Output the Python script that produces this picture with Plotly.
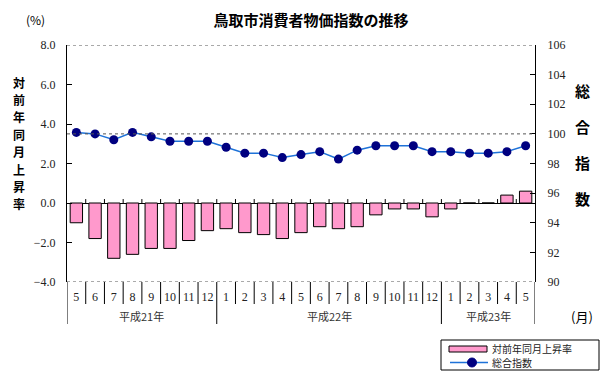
import plotly.graph_objects as go

# ---- data ----
month_labels = ["5", "6", "7", "8", "9", "10", "11", "12",
                "1", "2", "3", "4", "5", "6", "7", "8", "9", "10", "11", "12",
                "1", "2", "3", "4", "5"]
year_labels = ["平成21年", "平成22年", "平成23年"]
year_counts = [8, 12, 5]
rate_yoy = [-1.0, -1.8, -2.8, -2.6, -2.3, -2.3, -1.9, -1.4,
            -1.3, -1.5, -1.6, -1.8, -1.5, -1.2, -1.3, -1.2, -0.6, -0.3, -0.3, -0.7,
            -0.3, 0.0, 0.0, 0.4, 0.6]
index_total = [100.1, 100.0, 99.6, 100.1, 99.8, 99.5, 99.5, 99.5,
               99.1, 98.7, 98.7, 98.4, 98.6, 98.8, 98.3, 98.9, 99.2, 99.2, 99.2, 98.8,
               98.8, 98.7, 98.7, 98.8, 99.2]
left_ticks = [-4, -2, 0, 2, 4, 6, 8]
right_ticks = [90, 92, 94, 96, 98, 100, 102, 104, 106]
series_names = ["対前年同月上昇率", "総合指数"]

W, H = 606, 383
ML, MR, MT, MB = 67, 71, 45, 101
PW, PH = W - ML - MR, H - MT - MB

def px_x(px):
    return (px - ML) / PW

def px_y(py):
    return (H - MB - py) / PH

xs = list(range(len(month_labels)))
serif = "Liberation Serif"
cjk = "Noto Sans CJK JP"
PINK = "#FF99CC"
LINE = "#1E72D8"
NAVY = "#000080"

fig = go.Figure()
fig.add_trace(go.Bar(
    x=xs, y=rate_yoy, name=series_names[0], width=0.66,
    marker=dict(color=PINK, line=dict(color="black", width=1)),
))
fig.add_trace(go.Scatter(
    x=xs, y=index_total, yaxis="y2", name=series_names[1], mode="lines+markers",
    line=dict(color=LINE, width=1.5),
    marker=dict(color=NAVY, size=9),
))

shapes = []
# dotted reference lines
for yv in [left_ticks[-1], left_ticks[0]]:
    shapes.append(dict(type="line", xref="paper", yref="y", x0=0, x1=1, y0=yv, y1=yv,
                       line=dict(color="#555", width=1, dash="dot")))
shapes.append(dict(type="line", xref="paper", yref="y2", x0=0, x1=1, y0=100, y1=100,
                   line=dict(color="#555", width=1, dash="dot")))
# small ticks on zero line
for k in range(1, len(xs)):
    shapes.append(dict(type="line", xref="x", yref="y", x0=k - 0.5, x1=k - 0.5, y0=0, y1=0.2,
                       line=dict(color="black", width=1)))
# separators under the plot
year_bounds = [0]
for c in year_counts:
    year_bounds.append(year_bounds[-1] + c)
for k in range(len(xs) + 1):
    long = k in year_bounds
    shapes.append(dict(type="line", xref="x", yref="paper", x0=k - 0.5, x1=k - 0.5,
                       y0=0, y1=px_y(324) if long else px_y(304),
                       line=dict(color="black", width=1)))

# custom legend box
shapes.append(dict(type="rect", xref="paper", yref="paper",
                   x0=px_x(441), x1=px_x(599), y0=px_y(340), y1=px_y(370),
                   line=dict(color="black", width=1), fillcolor="white", layer="above"))
shapes.append(dict(type="rect", xref="paper", yref="paper",
                   x0=px_x(449), x1=px_x(487), y0=px_y(346), y1=px_y(352),
                   line=dict(color="black", width=1), fillcolor=PINK, layer="above"))
shapes.append(dict(type="line", xref="paper", yref="paper",
                   x0=px_x(450), x1=px_x(488), y0=px_y(362.5), y1=px_y(362.5),
                   line=dict(color=LINE, width=1.5), layer="above"))
shapes.append(dict(type="circle", xref="paper", yref="paper",
                   x0=px_x(467.5), x1=px_x(476.5), y0=px_y(358), y1=px_y(367),
                   line=dict(color=NAVY, width=1), fillcolor=NAVY, layer="above"))

annotations = []
for i, nm in enumerate(series_names):
    annotations.append(dict(x=px_x(490), xref="paper", y=px_y(349 + 13.5 * i), yref="paper",
                            text=nm, showarrow=False, font=dict(family=cjk, size=10, color="#222"),
                            xanchor="left", yanchor="middle"))
# year labels
for i, lab in enumerate(year_labels):
    cx = (year_bounds[i] + year_bounds[i + 1] - 1) / 2
    annotations.append(dict(x=cx, xref="x", y=px_y(316), yref="paper", text=lab,
                            showarrow=False, font=dict(family=cjk, size=11, color="#333"),
                            xanchor="center", yanchor="middle"))
annotations.append(dict(x=px_x(582), xref="paper", y=px_y(316), yref="paper", text="(月)",
                        showarrow=False, font=dict(family=cjk, size=13, color="black"),
                        xanchor="center", yanchor="middle"))
annotations.append(dict(x=px_x(35), xref="paper", y=px_y(20), yref="paper", text="(%)",
                        showarrow=False, font=dict(family=cjk, size=12, color="black"),
                        xanchor="center", yanchor="middle"))
for i, ch in enumerate("対前年同月上昇率"):
    annotations.append(dict(x=px_x(19), xref="paper", y=px_y(82 + 17.4 * i), yref="paper",
                            text="<b>" + ch + "</b>", showarrow=False,
                            font=dict(family=cjk, size=12, color="black"),
                            xanchor="center", yanchor="middle"))
for i, ch in enumerate("総合指数"):
    annotations.append(dict(x=px_x(582), xref="paper", y=px_y(90 + 36 * i), yref="paper",
                            text="<b>" + ch + "</b>", showarrow=False,
                            font=dict(family=cjk, size=15, color="black"),
                            xanchor="center", yanchor="middle"))

fig.update_layout(
    width=W, height=H,
    margin=dict(l=ML, r=MR, t=MT, b=MB, pad=0, autoexpand=False),
    paper_bgcolor="white", plot_bgcolor="white",
    title=dict(text="<b>鳥取市消費者物価指数の推移</b>", x=311 / W, xanchor="center",
               y=1 - 21 / H, yanchor="middle", yref="container",
               font=dict(family=cjk, size=15, color="black")),
    xaxis=dict(range=[-0.5, len(xs) - 0.5], tickmode="array", tickvals=xs, ticktext=month_labels,
               showline=False, showgrid=False, zeroline=False, ticks="",
               tickfont=dict(family=serif, size=12, color="#222"), ticklabelstandoff=6),
    yaxis=dict(range=[left_ticks[0], left_ticks[-1]], tickmode="array", tickvals=left_ticks,
               tickformat=".1f", ticks="inside", ticklen=5, tickcolor="black",
               showline=True, linecolor="black", linewidth=1, showgrid=False,
               zeroline=True, zerolinecolor="black", zerolinewidth=1,
               tickfont=dict(family=serif, size=12, color="#222"), ticklabelstandoff=8),
    yaxis2=dict(range=[right_ticks[0], right_ticks[-1]], tickmode="array", tickvals=right_ticks,
                overlaying="y", side="right", ticks="inside", ticklen=5, tickcolor="black",
                showline=True, linecolor="black", linewidth=1, showgrid=False, zeroline=False,
                tickfont=dict(family=serif, size=12, color="#222"), ticklabelstandoff=9),
    shapes=shapes, annotations=annotations,
    bargap=0.34, showlegend=False,
)

fig.write_html("out.html", config={"displayModeBar": False},
               post_script="document.body.style.margin='0';document.body.style.padding='0';")
